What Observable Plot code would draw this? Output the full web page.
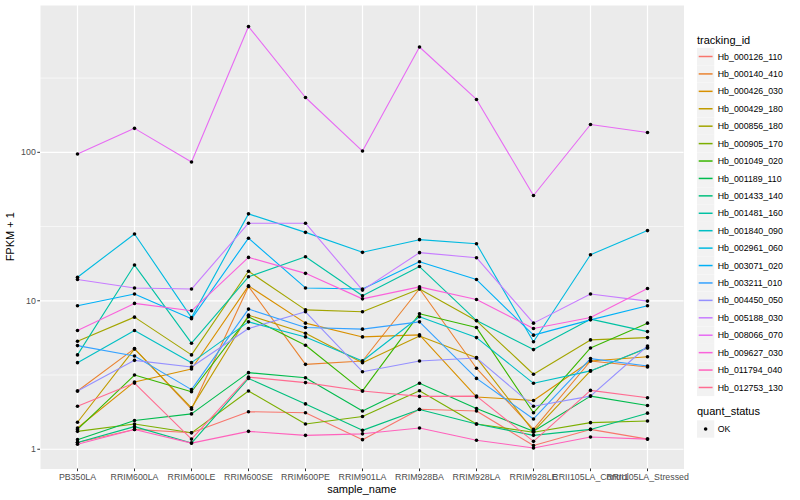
<!DOCTYPE html>
<html><head><meta charset="utf-8">
<script src="https://cdn.jsdelivr.net/npm/d3@7"></script>
<script src="https://cdn.jsdelivr.net/npm/@observablehq/plot@0.6"></script>
<style>body{margin:0;background:#fff} #chart svg{display:block}</style>
</head><body><div id="chart"></div>
<script>
const samples = ["PB350LA","RRIM600LA","RRIM600LE","RRIM600SE","RRIM600PE","RRIM901LA","RRIM928BA","RRIM928LA","RRIM928LE","RRII105LA_Control","RRII105LA_Stressed"];
const trackingIds = ["Hb_000126_110","Hb_000140_410","Hb_000426_030","Hb_000429_180","Hb_000856_180","Hb_000905_170","Hb_001049_020","Hb_001189_110","Hb_001433_140","Hb_001481_160","Hb_001840_090","Hb_002961_060","Hb_003071_020","Hb_003211_010","Hb_004450_050","Hb_005188_030","Hb_008066_070","Hb_009627_030","Hb_011794_040","Hb_012753_130"];
const palette = ["#F8766D","#EA8331","#D89000","#C09B00","#A3A500","#7CAE00","#39B600","#00BB4E","#00BF7D","#00C1A3","#00BFC4","#00BAE0","#00B0F6","#35A2FF","#9590FF","#C77CFF","#E76BF3","#FA62DB","#FF62BC","#FF6C91"];

// FPKM + 1 per tracking_id, in sample order
const hb000126_110 = [1.11, 1.36, 1.29, 1.79, 1.76, 1.16, 1.86, 1.81, 1.06, 1.36, 1.17];
const hb000140_410 = [2.47, 4.76, 1.86, 12.5, 3.73, 3.93, 12.05, 3.51, 1.36, 3.93, 3.58];
const hb000426_030 = [1.39, 2.84, 3.47, 12.6, 7.07, 5.71, 5.89, 2.25, 2.13, 3.93, 4.2];
const hb000429_180 = [1.52, 4.74, 1.90, 8.0, 6.05, 3.83, 5.8, 4.14, 1.32, 3.37, 4.81];
const hb000856_180 = [5.34, 7.76, 4.32, 15.8, 8.69, 8.43, 12.0, 7.33, 3.2, 5.45, 5.65];
const hb000905_170 = [1.32, 1.48, 1.29, 2.47, 1.48, 1.66, 2.48, 1.48, 1.30, 1.51, 1.55];
const hb001049_020 = [1.36, 3.16, 2.44, 7.8, 5.02, 2.47, 8.17, 6.6, 1.76, 4.81, 7.07];
const hb001189_110 = [1.16, 1.56, 1.73, 3.28, 3.03, 1.81, 2.78, 1.88, 1.32, 2.28, 1.97];
const hb001433_140 = [1.11, 1.42, 1.10, 3.0, 2.02, 1.34, 1.85, 1.48, 1.24, 1.36, 1.75];
const hb001481_160 = [4.32, 17.4, 5.18, 14.5, 19.8, 10.8, 17.0, 7.36, 4.69, 7.52, 6.2];
const hb001840_090 = [3.83, 6.3, 3.83, 7.21, 5.71, 3.93, 7.8, 5.65, 2.78, 3.37, 4.83];
const hb002961_060 = [14.4, 28.2, 7.7, 38.5, 28.9, 21.2, 25.8, 24.2, 5.3, 20.4, 29.7];
const hb003071_020 = [9.25, 11.1, 7.56, 26.4, 12.2, 12.0, 18.3, 13.9, 5.87, 7.44, 9.25];
const hb003211_010 = [4.99, 4.25, 2.52, 8.79, 6.6, 6.44, 7.21, 3.0, 1.6, 4.08, 3.64];
const hb004450_050 = [2.47, 3.97, 3.58, 6.5, 8.43, 3.33, 3.93, 4.12, 1.95, 2.28, 4.96];
const hb005188_030 = [13.9, 12.2, 12.0, 33.3, 33.3, 11.8, 21.1, 19.5, 7.07, 11.1, 9.95];
const hb008066_070 = [97.5, 145, 86, 703, 234, 102, 512, 227, 51.2, 154, 136];
const hb009627_030 = [6.3, 9.6, 8.56, 19.6, 15.3, 10.3, 12.4, 10.2, 6.5, 7.71, 12.1];
const hb011794_040 = [1.08, 1.36, 1.10, 1.32, 1.24, 1.27, 1.39, 1.15, 1.02, 1.21, 1.17];
const hb012753_130 = [1.95, 2.79, 1.17, 3.06, 2.81, 2.47, 2.27, 2.28, 1.13, 2.49, 2.22];

const seriesValues = [hb000126_110, hb000140_410, hb000426_030, hb000429_180, hb000856_180, hb000905_170, hb001049_020, hb001189_110, hb001433_140, hb001481_160, hb001840_090, hb002961_060, hb003071_020, hb003211_010, hb004450_050, hb005188_030, hb008066_070, hb009627_030, hb011794_040, hb012753_130];
const yTicks = [1, 10, 100];
const yMinor = [3.1623, 31.623, 316.23];
const quantStatus = ["OK"];

const rows = [];
trackingIds.forEach((id, i) => seriesValues[i].forEach((v, j) => rows.push({id, sample: samples[j], value: v, status: "OK"})));

const W = 800, H = 500, mL = 40, mR = 116.5, mT = 5, mB = 31.5;
const font = "'Liberation Sans', Arial, Helvetica, sans-serif";

const svg = Plot.plot({
  width: W, height: H,
  marginLeft: mL, marginRight: mR, marginTop: mT, marginBottom: mB,
  style: {fontFamily: font, background: "white", overflow: "visible"},
  x: {type: "point", domain: samples, padding: 0.6, label: null},
  y: {type: "log", domain: [0.736, 975], label: null},
  color: {domain: trackingIds, range: palette},
  marks: [
    Plot.frame({fill: "#EBEBEB", stroke: null}),
    Plot.ruleY(yMinor, {stroke: "white", strokeWidth: 0.6}),
    Plot.ruleY(yTicks, {stroke: "white", strokeWidth: 1.2}),
    Plot.ruleX(samples, {stroke: "white", strokeWidth: 1.2}),
    Plot.line(rows, {x: "sample", y: "value", z: "id", stroke: "id", strokeWidth: 1.1}),
    Plot.dot(rows, {x: "sample", y: "value", fill: "black", r: 1.8, stroke: null}),
    Plot.axisX({tickSize: 2.7, tickPadding: 2, fontSize: 8.8, fill: "#4D4D4D", stroke: "#333333", label: null}),
    Plot.axisY({ticks: yTicks, tickFormat: d => String(d), tickSize: 2.7, tickPadding: 2, fontSize: 8.8, fill: "#4D4D4D", stroke: "#333333", label: null})
  ]
});

const s = d3.select(svg);
// axis titles
s.append("text").attr("x", (mL + W - mR) / 2).attr("y", 493).attr("text-anchor", "middle")
  .attr("font-size", 11).attr("fill", "black").attr("font-family", font).text("sample_name");
s.append("text").attr("transform", `translate(14,${(mT + H - mB) / 2}) rotate(-90)`).attr("text-anchor", "middle")
  .attr("font-size", 11).attr("fill", "black").attr("font-family", font).text("FPKM + 1");

// legend
const lx = 697, key = 17.28, step = 17.42, c0 = 56.5;
const lg = s.append("g").attr("font-family", font).attr("text-anchor", "start");
lg.append("text").attr("x", lx).attr("y", 44).attr("font-size", 11).attr("fill", "black").text("tracking_id");
trackingIds.forEach((id, i) => {
  const cy = c0 + i * step;
  lg.append("rect").attr("x", lx).attr("y", cy - key / 2).attr("width", key).attr("height", key).attr("fill", "#F2F2F2");
  lg.append("line").attr("x1", lx + 1.7).attr("x2", lx + key - 1.7).attr("y1", cy).attr("y2", cy)
    .attr("stroke", palette[i]).attr("stroke-width", 1.5);
  lg.append("text").attr("x", lx + key + 3.5).attr("y", cy).attr("dy", "0.35em").attr("font-size", 8.8).attr("fill", "black").text(id);
});
lg.append("text").attr("x", lx).attr("y", 415).attr("font-size", 11).attr("fill", "black").text("quant_status");
quantStatus.forEach((q, i) => {
  const cy = 429 + i * step;
  lg.append("rect").attr("x", lx).attr("y", cy - key / 2).attr("width", key).attr("height", key).attr("fill", "#F2F2F2");
  lg.append("circle").attr("cx", lx + key / 2).attr("cy", cy).attr("r", 1.8).attr("fill", "black");
  lg.append("text").attr("x", lx + key + 3.5).attr("y", cy).attr("dy", "0.35em").attr("font-size", 8.8).attr("fill", "black").text(q);
});

document.getElementById("chart").appendChild(svg);
</script></body></html>
